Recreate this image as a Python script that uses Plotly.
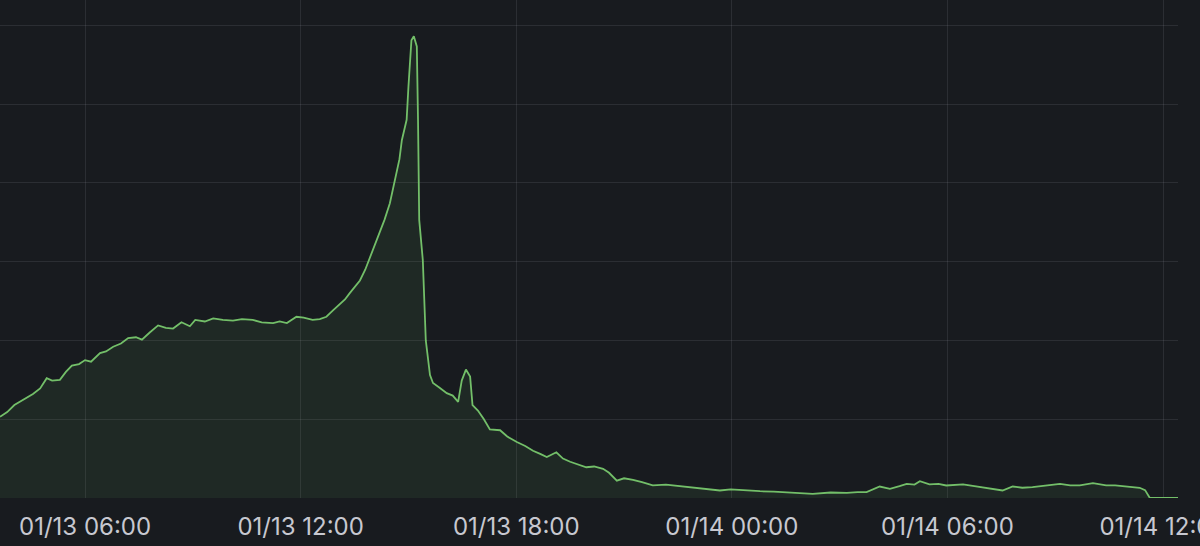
import plotly.graph_objects as go

times = [
    "2024-01-13 03:38", "2024-01-13 03:50", "2024-01-13 04:02", "2024-01-13 04:11",
    "2024-01-13 04:25", "2024-01-13 04:33", "2024-01-13 04:45", "2024-01-13 04:56",
    "2024-01-13 05:05", "2024-01-13 05:18", "2024-01-13 05:28", "2024-01-13 05:38",
    "2024-01-13 05:50", "2024-01-13 06:00", "2024-01-13 06:10", "2024-01-13 06:25",
    "2024-01-13 06:35", "2024-01-13 06:47", "2024-01-13 07:00", "2024-01-13 07:12",
    "2024-01-13 07:25", "2024-01-13 07:35", "2024-01-13 07:48", "2024-01-13 08:02",
    "2024-01-13 08:15", "2024-01-13 08:27", "2024-01-13 08:41", "2024-01-13 08:55",
    "2024-01-13 09:04", "2024-01-13 09:20", "2024-01-13 09:34", "2024-01-13 09:50",
    "2024-01-13 10:07", "2024-01-13 10:22", "2024-01-13 10:40", "2024-01-13 10:55",
    "2024-01-13 11:14", "2024-01-13 11:25", "2024-01-13 11:37", "2024-01-13 11:53",
    "2024-01-13 12:05", "2024-01-13 12:20", "2024-01-13 12:32", "2024-01-13 12:43",
    "2024-01-13 12:54", "2024-01-13 13:06", "2024-01-13 13:14", "2024-01-13 13:22",
    "2024-01-13 13:30", "2024-01-13 13:39", "2024-01-13 13:48", "2024-01-13 13:56",
    "2024-01-13 14:04", "2024-01-13 14:12", "2024-01-13 14:20", "2024-01-13 14:29",
    "2024-01-13 14:35", "2024-01-13 14:40", "2024-01-13 14:45", "2024-01-13 14:49",
    "2024-01-13 14:57", "2024-01-13 15:00", "2024-01-13 15:05", "2024-01-13 15:09",
    "2024-01-13 15:14", "2024-01-13 15:16", "2024-01-13 15:18", "2024-01-13 15:24",
    "2024-01-13 15:28", "2024-01-13 15:29", "2024-01-13 15:36", "2024-01-13 15:41",
    "2024-01-13 15:52", "2024-01-13 16:04", "2024-01-13 16:14", "2024-01-13 16:23",
    "2024-01-13 16:29", "2024-01-13 16:36", "2024-01-13 16:43", "2024-01-13 16:47",
    "2024-01-13 16:56", "2024-01-13 17:06", "2024-01-13 17:16", "2024-01-13 17:33",
    "2024-01-13 17:45", "2024-01-13 18:01", "2024-01-13 18:15", "2024-01-13 18:28",
    "2024-01-13 18:40", "2024-01-13 18:51", "2024-01-13 19:07", "2024-01-13 19:18",
    "2024-01-13 19:30", "2024-01-13 19:45", "2024-01-13 19:57", "2024-01-13 20:10",
    "2024-01-13 20:25", "2024-01-13 20:35", "2024-01-13 20:48", "2024-01-13 21:00",
    "2024-01-13 21:15", "2024-01-13 21:30", "2024-01-13 21:48", "2024-01-13 22:10",
    "2024-01-13 22:33", "2024-01-13 22:50", "2024-01-13 23:07", "2024-01-13 23:25",
    "2024-01-13 23:40", "2024-01-13 23:58", "2024-01-14 00:13", "2024-01-14 00:30",
    "2024-01-14 00:47", "2024-01-14 01:10", "2024-01-14 01:31", "2024-01-14 01:55",
    "2024-01-14 02:15", "2024-01-14 02:45", "2024-01-14 03:12", "2024-01-14 03:30",
    "2024-01-14 03:45", "2024-01-14 04:07", "2024-01-14 04:24", "2024-01-14 04:40",
    "2024-01-14 04:52", "2024-01-14 05:05", "2024-01-14 05:14", "2024-01-14 05:30",
    "2024-01-14 05:45", "2024-01-14 05:58", "2024-01-14 06:12", "2024-01-14 06:26",
    "2024-01-14 06:45", "2024-01-14 07:05", "2024-01-14 07:20", "2024-01-14 07:32",
    "2024-01-14 07:49", "2024-01-14 08:05", "2024-01-14 08:22", "2024-01-14 08:45",
    "2024-01-14 09:08", "2024-01-14 09:25", "2024-01-14 09:41", "2024-01-14 10:03",
    "2024-01-14 10:25", "2024-01-14 10:40", "2024-01-14 10:59", "2024-01-14 11:10",
    "2024-01-14 11:21", "2024-01-14 11:30", "2024-01-14 11:38", "2024-01-14 12:25",
]

values = [
    10.3, 10.9, 11.8, 12.2,
    12.9, 13.2, 13.9, 15.2,
    14.9, 15.0, 16.0, 16.8,
    17.0, 17.5, 17.3, 18.4,
    18.6, 19.2, 19.6, 20.3,
    20.4, 20.1, 21.0, 21.9,
    21.6, 21.5, 22.3, 21.8,
    22.6, 22.4, 22.8, 22.6,
    22.5, 22.7, 22.6, 22.3,
    22.2, 22.4, 22.2, 23.0,
    22.9, 22.6, 22.7, 23.0,
    23.8, 24.6, 25.2, 26.0,
    26.7, 27.6, 29.0, 30.6,
    32.0, 33.6, 35.3, 37.4,
    39.4, 41.2, 43.0, 45.4,
    48.0, 52.2, 58.1, 58.6,
    57.3, 48.0, 35.3, 30.2,
    22.6, 20.0, 15.6, 14.6,
    14.0, 13.3, 13.0, 12.2,
    14.9, 16.3, 15.4, 11.8,
    11.1, 10.0, 8.7, 8.6,
    7.8, 7.1, 6.6, 6.0,
    5.6, 5.2, 5.8, 5.0,
    4.6, 4.2, 3.9, 4.0,
    3.7, 3.2, 2.2, 2.5,
    2.3, 2.0, 1.6, 1.7,
    1.5, 1.3, 1.2, 1.05,
    0.95, 1.1, 1.0, 0.9,
    0.86, 0.8, 0.74, 0.6,
    0.53, 0.7, 0.66, 0.75,
    0.74, 1.46, 1.17, 1.5,
    1.8, 1.7, 2.13, 1.72,
    1.8, 1.59, 1.65, 1.72,
    1.5, 1.3, 1.1, 0.95,
    1.46, 1.3, 1.37, 1.6,
    1.8, 1.6, 1.59, 1.88,
    1.59, 1.6, 1.46, 1.4,
    1.3, 1.0, 0.0, 0.0,
]

x_range = ["2024-01-13 03:38", "2024-01-14 12:25"]
y_range = [0, 63.2]
tick_start = "2024-01-13 06:00"

BG = "#181b1f"
GRID = "rgba(204,204,220,0.11)"
LINE = "#73bf69"

fig = go.Figure()
fig.add_trace(go.Scatter(
    x=times, y=values, mode="lines",
    line=dict(color=LINE, width=1.8),
    fill="tozeroy", fillcolor="rgba(115,191,105,0.09)",
    hoverinfo="skip",
))

fig.update_layout(
    width=1200, height=546,
    margin=dict(l=0, r=22, t=0, b=48, autoexpand=False),
    paper_bgcolor=BG, plot_bgcolor=BG,
    showlegend=False,
    font=dict(family="Inter, Roboto, sans-serif", color="#c7c8d0", size=24),
)
fig.update_xaxes(
    type="date", range=x_range,
    tick0=tick_start, dtick=6 * 3600 * 1000,
    tickformat="%m/%d %H:%M",
    showgrid=True, gridcolor=GRID, gridwidth=1,
    showline=False, zeroline=False, ticks="",
    ticklabelstandoff=12, ticklabeloverflow="allow", automargin=False,
)
fig.update_yaxes(
    range=y_range, dtick=10,
    showgrid=True, gridcolor=GRID, gridwidth=1,
    showticklabels=False, zeroline=False, showline=False, ticks="",
    automargin=False,
)

fig.write_html(
    "out.html",
    config={"displayModeBar": False},
    post_script="document.body.style.margin='0';document.body.style.background='#181b1f';document.body.style.overflow='hidden';",
)
